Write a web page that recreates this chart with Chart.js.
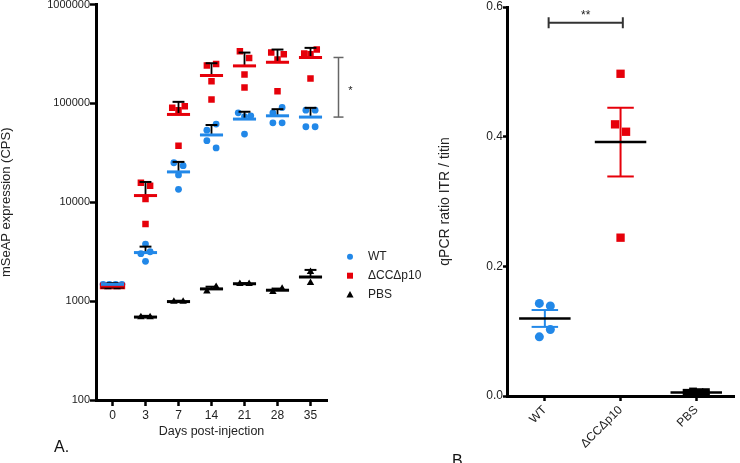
<!DOCTYPE html>
<html><head><meta charset="utf-8">
<script src="https://cdn.jsdelivr.net/npm/chart.js@4.4.1/dist/chart.umd.min.js"></script>
<style>
html,body{margin:0;padding:0;background:#fff;width:740px;height:463px;overflow:hidden;position:relative;font-family:"Liberation Sans",Arial,sans-serif}
#wa{position:absolute;left:0;top:0;width:440px;height:463px}
#wb{position:absolute;left:438px;top:0;width:302px;height:463px}
.lab{position:absolute;font-size:16px;line-height:16px;color:#111}
</style></head><body>
<div id="wa"><canvas id="ca" width="440" height="463"></canvas></div>
<div id="wb"><canvas id="cb" width="302" height="463"></canvas></div>
<div class="lab" style="left:54px;top:439px">A.</div>
<div class="lab" style="left:452px;top:453px">B.</div>
<script>
// ---------- Panel A data ----------
const days = ['0','3','7','14','21','28','35'];
const yTicksA = [100, 1000, 10000, 100000, 1000000];
const seriesNamesA = ['WT', 'ΔCCΔp10', 'PBS'];
const wtA = [[1480,1480,1480,1480],[3780,3020,3160,2530],[25120,23450,18900,13520],[53700,61800,42000,35500],[80400,73600,75000,49000],[80400,91200,63700,63700],[85500,85500,58100,58100]];
const dccA = [[1420,1420,1420,1420],[15780,14720,10790,6040],[90300,85500,93950,37300],[242000,250000,167800,109700],[337600,289000,196300,145200],[327000,278000,314500,133000],[320000,315000,351000,179000]];
const pbsA = [[1390,1390],[690,690],[990,990],[1260,1400],[1500,1500],[1240,1340],[1980,1530]];
const wtMeanA = [1480, 3100, 20300, 48000, 69500, 75000, 72800];
const wtSemA = [40, 460, 5330, 12500, 12900, 12500, 17500];
const dccMeanA = [1420, 11700, 77400, 191800, 239900, 261000, 291800];
const dccSemA = [40, 4360, 26400, 63500, 87100, 90000, 73200];
const pbsMeanA = [1390, 690, 990, 1330, 1500, 1290, 1755];
const pbsSemA = [20, 20, 20, 70, 20, 50, 315];

// ---------- Panel B data ----------
const groupsB = ['WT', 'ΔCCΔp10', 'PBS'];
const yTicksB = [0, 0.2, 0.4, 0.6];
const wtB = [0.0912, 0.1026, 0.1428, 0.139];
const dccB = [0.497, 0.419, 0.4076, 0.2442];
const pbsB = [0.005, 0.007, 0.006, 0.006];
const meanB = [0.1196, 0.3916, 0.0055];
const semB = [0.013, 0.053, 0.002];

const BLUE = '#2288E8', RED = '#E6000A', BLACK = '#000';
const FONT = '"Liberation Sans", Arial, sans-serif';
Chart.defaults.font.family = FONT;
Chart.defaults.color = '#222';

// horizontal spreading of overlapping points (scatter dot plot layout)
function jitter(vals, thr, tf, sp2, spN) {
  const idx = vals.map((v, i) => i).sort((a, b) => tf(vals[a]) - tf(vals[b]));
  const clusters = []; let cur = [idx[0]];
  for (let k = 1; k < idx.length; k++) {
    if (tf(vals[idx[k]]) - tf(vals[idx[k - 1]]) < thr) cur.push(idx[k]);
    else { clusters.push(cur); cur = [idx[k]]; }
  }
  clusters.push(cur);
  const off = new Array(vals.length).fill(0);
  clusters.forEach(c => {
    c.sort((a, b) => a - b);
    const n = c.length, s = n === 2 ? sp2 : spN;
    c.forEach((i, j) => { off[i] = (j - (n - 1) / 2) * s; });
  });
  return off;
}
function pointsA(groups) {
  const out = [];
  groups.forEach((vals, i) => {
    const off = jitter(vals, 0.075, Math.log10, 0.28, 0.19);
    vals.forEach((v, j) => out.push({x: i + off[j], y: v}));
  });
  return out;
}
function pointsB(vals, i) {
  const off = jitter(vals, 0.014, v => v, 0.145, 0.085);
  return vals.map((v, j) => ({x: i + off[j], y: v}));
}

function line(ctx, x1, y1, x2, y2) { ctx.beginPath(); ctx.moveTo(x1, y1); ctx.lineTo(x2, y2); ctx.stroke(); }

const summaryA = {
  id: 'summaryA',
  afterDatasetsDraw(chart) {
    const {ctx, scales: {x, y}} = chart;
    const groups = [[pbsMeanA, pbsSemA, BLACK], [dccMeanA, dccSemA, RED], [wtMeanA, wtSemA, BLUE]];
    ctx.save();
    groups.forEach(([m, s, c]) => {
      m.forEach((mv, i) => {
        const ym = y.getPixelForValue(mv), yu = y.getPixelForValue(mv + s[i]);
        const xc = x.getPixelForValue(i);
        ctx.strokeStyle = '#000'; ctx.lineWidth = 1.8;
        line(ctx, xc, ym, xc, yu);
        ctx.lineWidth = 2;
        line(ctx, x.getPixelForValue(i - 0.18), yu, x.getPixelForValue(i + 0.18), yu);
        ctx.strokeStyle = c; ctx.lineWidth = 3;
        line(ctx, x.getPixelForValue(i - 0.35), ym, x.getPixelForValue(i + 0.35), ym);
      });
    });
    // significance bracket at day 35
    const bx = x.right + 11.5;
    const y1 = y.getPixelForValue(dccMeanA[6]), y2 = y.getPixelForValue(wtMeanA[6]);
    ctx.strokeStyle = '#666'; ctx.lineWidth = 1.5;
    line(ctx, bx, y1, bx, y2);
    line(ctx, bx - 5, y1, bx + 5, y1);
    line(ctx, bx - 5, y2, bx + 5, y2);
    ctx.fillStyle = '#222'; ctx.font = '11px ' + FONT; ctx.textAlign = 'center'; ctx.textBaseline = 'alphabetic';
    ctx.fillText('*', bx + 12, (y1 + y2) / 2 + 6.5);
    // legend
    const lx = x.right + 23, ly = [256.7, 275.7, 295];
    const cols = [BLUE, RED, BLACK];
    ctx.textAlign = 'left'; ctx.textBaseline = 'middle'; ctx.font = '12px ' + FONT;
    seriesNamesA.forEach((name, k) => {
      ctx.fillStyle = cols[k];
      ctx.beginPath();
      if (k === 0) ctx.arc(lx, ly[k], 3, 0, Math.PI * 2);
      else if (k === 1) ctx.rect(lx - 3, ly[k] - 3, 6, 6);
      else { ctx.moveTo(lx, ly[k] - 4); ctx.lineTo(lx + 3.6, ly[k] + 2.5); ctx.lineTo(lx - 3.6, ly[k] + 2.5); ctx.closePath(); }
      ctx.fill();
      ctx.fillStyle = '#222';
      ctx.fillText(name, lx + 18, ly[k]);
    });
    ctx.restore();
  }
};

new Chart(document.getElementById('ca'), {
  type: 'scatter',
  data: {datasets: [
    {label: 'PBS', data: pointsA(pbsA), pointStyle: 'triangle', pointRadius: 4.3, backgroundColor: BLACK, borderColor: BLACK, borderWidth: 0},
    {label: 'ΔCCΔp10', data: pointsA(dccA), pointStyle: 'rect', pointRadius: 4.6, backgroundColor: RED, borderColor: RED, borderWidth: 0},
    {label: 'WT', data: pointsA(wtA), pointStyle: 'circle', pointRadius: 3.4, backgroundColor: BLUE, borderColor: BLUE, borderWidth: 0}
  ]},
  options: {
    responsive: false, animation: false, devicePixelRatio: 1,
    layout: {padding: {left: 0, top: 4, right: 113, bottom: 20}},
    plugins: {legend: {display: false}, tooltip: {enabled: false}},
    scales: {
      x: {
        type: 'linear', min: -0.5, max: 6.5,
        afterBuildTicks: s => { s.ticks = days.map((d, i) => ({value: i})); },
        afterFit: s => { s.height = 43; s.paddingLeft = 0; s.paddingRight = 0; },
        ticks: {callback: v => days[v], autoSkip: false, maxRotation: 0, font: {size: 12}, color: '#222', padding: 2},
        grid: {drawOnChartArea: false, tickLength: 6, tickWidth: 2.5, tickColor: '#000'},
        border: {color: '#000', width: 3},
        title: {display: true, text: 'Days post-injection', font: {size: 12.5}, color: '#222', padding: {top: 0, bottom: 4}}
      },
      y: {
        type: 'logarithmic', min: 100, max: 1000000,
        afterBuildTicks: s => { s.ticks = yTicksA.map(v => ({value: v})); },
        afterFit: s => { s.width = 96; s.paddingTop = 0; s.paddingBottom = 0; },
        ticks: {callback: v => String(v), font: {size: 11}, padding: 0, color: '#222'},
        grid: {drawOnChartArea: false, tickLength: 6, tickWidth: 2.5, tickColor: '#000'},
        border: {color: '#000', width: 3},
        title: {display: true, text: 'mSeAP expression (CPS)', font: {size: 13, lineHeight: 1}, padding: {top: 0, bottom: 0}, color: '#222'}
      }
    }
  },
  plugins: [summaryA]
});

const summaryB = {
  id: 'summaryB',
  afterDatasetsDraw(chart) {
    const {ctx, scales: {x, y}} = chart;
    const cols = [BLUE, RED, BLACK];
    ctx.save();
    meanB.forEach((m, i) => {
      const xc = x.getPixelForValue(i);
      const ym = y.getPixelForValue(m), yu = y.getPixelForValue(m + semB[i]), yl = y.getPixelForValue(Math.max(0, m - semB[i]));
      ctx.strokeStyle = cols[i]; ctx.lineWidth = 2;
      line(ctx, xc, yl, xc, yu);
      line(ctx, x.getPixelForValue(i - 0.175), yu, x.getPixelForValue(i + 0.175), yu);
      line(ctx, x.getPixelForValue(i - 0.175), yl, x.getPixelForValue(i + 0.175), yl);
      ctx.strokeStyle = '#000'; ctx.lineWidth = 2.5;
      line(ctx, x.getPixelForValue(i - 0.34), ym, x.getPixelForValue(i + 0.34), ym);
    });
    // significance bracket WT vs ΔCCΔp10
    const by = y.getPixelForValue(0.5757);
    const bx1 = x.getPixelForValue(0.05), bx2 = x.getPixelForValue(1.03);
    ctx.strokeStyle = '#333'; ctx.lineWidth = 2;
    line(ctx, bx1, by, bx2, by);
    line(ctx, bx1, by - 5.5, bx1, by + 5.5);
    line(ctx, bx2, by - 5.5, bx2, by + 5.5);
    ctx.fillStyle = '#222'; ctx.font = '12px ' + FONT; ctx.textAlign = 'center'; ctx.textBaseline = 'alphabetic';
    ctx.fillText('**', (bx1 + bx2) / 2, by - 3.5);
    ctx.restore();
  }
};

new Chart(document.getElementById('cb'), {
  type: 'scatter',
  data: {datasets: [
    {label: 'WT', data: pointsB(wtB, 0), pointStyle: 'circle', pointRadius: 4.5, backgroundColor: BLUE, borderWidth: 0},
    {label: 'ΔCCΔp10', data: pointsB(dccB, 1), pointStyle: 'rect', pointRadius: 5.9, backgroundColor: RED, borderWidth: 0},
    {label: 'PBS', data: pointsB(pbsB, 2), pointStyle: 'rect', pointRadius: 5.5, backgroundColor: BLACK, borderWidth: 0}
  ]},
  options: {
    responsive: false, animation: false, devicePixelRatio: 1,
    layout: {padding: {left: 0, top: 7, right: 1, bottom: 0}},
    plugins: {legend: {display: false}, tooltip: {enabled: false}},
    scales: {
      x: {
        type: 'linear', min: -0.5, max: 2.5,
        afterBuildTicks: s => { s.ticks = groupsB.map((g, i) => ({value: i})); },
        afterFit: s => { s.height = 67; s.paddingLeft = 0; s.paddingRight = 0; },
        ticks: {callback: v => groupsB[v], autoSkip: false, minRotation: 45, maxRotation: 45, font: {size: 12}, color: '#222', padding: 2},
        grid: {drawOnChartArea: false, tickLength: 5, tickWidth: 2.5, tickColor: '#000'},
        border: {color: '#000', width: 3}
      },
      y: {
        type: 'linear', min: 0, max: 0.6,
        afterBuildTicks: s => { s.ticks = yTicksB.map(v => ({value: v})); },
        afterFit: s => { s.width = 69; s.paddingTop = 0; s.paddingBottom = 0; },
        ticks: {callback: v => v.toFixed(1), font: {size: 12}, padding: 0, color: '#222'},
        grid: {drawOnChartArea: false, tickLength: 4, tickWidth: 2.5, tickColor: '#000'},
        border: {color: '#000', width: 3},
        title: {display: true, text: 'qPCR ratio ITR / titin', font: {size: 14, lineHeight: 1}, padding: {top: 0, bottom: 0}, color: '#222'}
      }
    }
  },
  plugins: [summaryB]
});
</script>
</body></html>
